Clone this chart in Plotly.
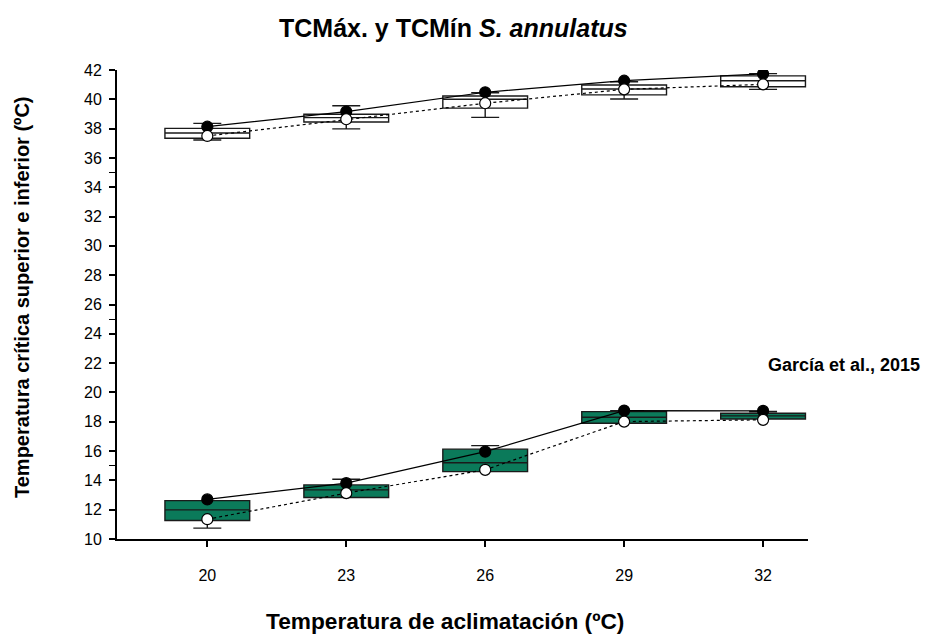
import plotly.graph_objects as go

temps = [20, 23, 26, 29, 32]
tick_labels = ["20", "23", "26", "29", "32"]

# Upper (TCMáx) box statistics
max_q1 = [37.34, 38.45, 39.40, 40.30, 40.86]
max_median = [37.70, 38.75, 40.00, 40.70, 41.27]
max_q3 = [38.02, 38.98, 40.23, 40.98, 41.60]
max_low = [37.22, 37.98, 38.77, 40.02, 40.68]
max_high = [38.36, 39.56, 40.45, 41.20, 41.75]
max_filled = [38.13, 39.16, 40.48, 41.27, 41.73]
max_open = [37.50, 38.64, 39.73, 40.68, 41.02]

# Lower (TCMín) box statistics
min_q1 = [11.26, 12.83, 14.60, 17.90, 18.19]
min_median = [11.99, 13.35, 15.20, 18.31, 18.40]
min_q3 = [12.62, 13.69, 16.13, 18.69, 18.58]
min_low = [10.74, 12.83, 14.60, 17.90, 18.19]
min_high = [12.62, 14.08, 16.37, 18.76, 18.70]
min_filled = [12.70, 13.81, 15.96, 18.76, 18.74]
min_open = [11.35, 13.13, 14.72, 18.01, 18.13]

y_ticks = list(range(10, 43, 2))
y_minor = [15, 25, 35]

FONT = "Arial, Liberation Sans, sans-serif"
GREEN = "#0b7a5a"

fig = go.Figure()


def add_box(q1, med, q3, lo, hi, fill):
    fig.add_trace(go.Box(
        x=temps, q1=q1, median=med, q3=q3, lowerfence=lo, upperfence=hi,
        width=1.83, whiskerwidth=0.33, fillcolor=fill,
        line=dict(color="#1a1a1a", width=1.4), boxpoints=False,
        showlegend=False, hoverinfo="skip",
    ))


add_box(max_q1, max_median, max_q3, max_low, max_high, "white")
add_box(min_q1, min_median, min_q3, min_low, min_high, GREEN)


def add_line(vals, dash, mfill):
    fig.add_trace(go.Scatter(
        x=temps, y=vals, mode="lines+markers",
        line=dict(color="black", width=1.2, dash=dash),
        marker=dict(size=11, color=mfill, line=dict(color="black", width=1.2)),
        showlegend=False,
    ))


add_line(max_filled, "solid", "black")
add_line(max_open, "dot", "white")
add_line(min_filled, "solid", "black")
add_line(min_open, "dot", "white")

fig.update_layout(
    width=925, height=626,
    margin=dict(l=109, r=125, t=62, b=95, autoexpand=False),
    paper_bgcolor="white", plot_bgcolor="white",
    font=dict(family=FONT, color="black"),
    xaxis=dict(
        range=[18.05, 32.97], tickvals=temps, ticktext=tick_labels,
        showline=True, linecolor="black", linewidth=1.8,
        ticks="outside", ticklen=6, tickwidth=1.5, tickcolor="black",
        showgrid=False, zeroline=False, automargin=False,
        tickfont=dict(size=16), ticklabelstandoff=15,
    ),
    yaxis=dict(
        range=[10, 42], tickvals=y_ticks,
        showline=True, linecolor="black", linewidth=1.8,
        ticks="outside", ticklen=6, tickwidth=1.5, tickcolor="black",
        minor=dict(tickvals=y_minor, ticks="outside", ticklen=6, tickwidth=1.2, tickcolor="black"),
        showgrid=False, zeroline=False, automargin=False,
        tickfont=dict(size=16), ticklabelstandoff=4,
    ),
    annotations=[
        dict(text="<b>TCMáx. y TCMín <i>S. annulatus</i></b>", xref="paper", yref="paper",
             x=0.487, y=1.0896, xanchor="center", yanchor="middle",
             showarrow=False, font=dict(size=25, family=FONT)),
        dict(text="<b>Temperatura de aclimatación (ºC)</b>", xref="paper", yref="paper",
             x=0.4747, y=-0.175, xanchor="center", yanchor="middle",
             showarrow=False, font=dict(size=22.7, family=FONT)),
        dict(text="<b>Temperatura crítica superior e inferior (ºC)</b>", xref="paper", yref="paper",
             x=-0.1375, y=0.516, xanchor="center", yanchor="middle", textangle=-90,
             showarrow=False, font=dict(size=20, family=FONT)),
        dict(text="<b>García et al., 2015</b>", xref="paper", yref="paper",
             x=1.052, y=0.37, xanchor="center", yanchor="middle",
             showarrow=False, font=dict(size=18, family=FONT)),
    ],
)

fig.write_html("out.html")
